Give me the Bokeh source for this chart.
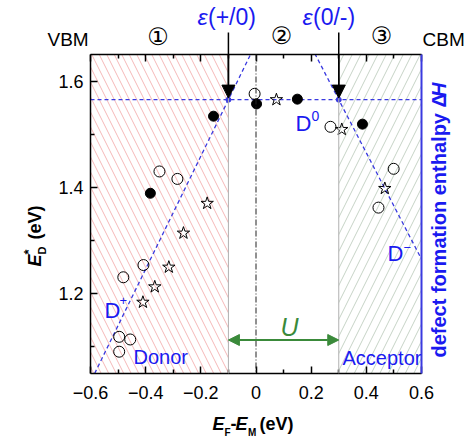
import math
from bokeh.plotting import figure
from bokeh.models import (Range1d, LinearAxis, FixedTicker, Span, Arrow, NormalHead)
from bokeh.core.properties import value
from bokeh.embed import file_html
from bokeh.resources import INLINE

# ---------------- data ----------------
filled_x = [-0.154, -0.383, 0.002, 0.150, 0.386]
filled_y = [1.534, 1.389, 1.557, 1.566, 1.519]

open_x = [-0.350, -0.285, -0.408, -0.481, -0.496, -0.456, -0.496, -0.005, 0.270, 0.499, 0.444]
open_y = [1.430, 1.416, 1.254, 1.231, 1.119, 1.114, 1.091, 1.576, 1.514, 1.435, 1.362]

star_x = [-0.177, -0.263, -0.316, -0.367, -0.410, 0.074, 0.311, 0.467]
star_y = [1.370, 1.314, 1.250, 1.213, 1.184, 1.565, 1.509, 1.398]

# transition levels and charge-state lines
trans_x = [-0.1, 0.3]
trans_y = [1.565, 1.565]
neutral_x = [-0.6, 0.6]
neutral_y = [1.565, 1.565]
plus_x = [-0.585, -0.018]
plus_y = [1.05, 1.652]
minus_x = [0.213, 0.6]
minus_y = [1.652, 1.265]

# regions
donor_region = (-0.6, -0.1)
acceptor_region = (0.3, 0.6)

x_ticks = [-0.6, -0.4, -0.2, 0.0, 0.2, 0.4, 0.6]
x_minor = [-0.5, -0.3, -0.1, 0.1, 0.3, 0.5]
y_ticks = [1.2, 1.4, 1.6]
y_minor = [1.1, 1.3, 1.5]

X0, X1 = -0.6, 0.6
Y0, Y1 = 1.05, 1.65

W, H = 468, 438
BL, BR, BT, BB = 90, 47, 54, 65
FL, FR, FT, FB = BL, W - BR, BT, H - BB


def px_x(px):
    return X0 + (px - FL) / (FR - FL) * (X1 - X0)


def px_y(py):
    return Y1 - (py - FT) / (FB - FT) * (Y1 - Y0)


BLUE_T = "#1a1af0"
BLUE_L = "#3a3ae0"
GREEN = "#3a8a3a"
FONT = "Liberation Sans"
K = 0.27  # baseline correction (fraction of font size)

p = figure(width=W, height=H, output_backend="svg", toolbar_location=None,
           x_range=Range1d(X0, X1), y_range=Range1d(Y0, Y1),
           min_border_left=BL, min_border_right=BR, min_border_top=BT,
           min_border_bottom=BB, x_axis_location=None, y_axis_location=None)
p.outline_line_color = None
p.xgrid.visible = False
p.ygrid.visible = False
p.background_fill_color = "white"


def style_axis(ax, ticks, minor, show_labels=True):
    ax.ticker = FixedTicker(ticks=ticks, minor_ticks=minor)
    ax.major_tick_in = 7
    ax.major_tick_out = 0
    ax.minor_tick_in = 4
    ax.minor_tick_out = 0
    ax.axis_line_width = 1.5
    ax.major_tick_line_width = 1.5
    ax.minor_tick_line_width = 1.5
    ax.major_label_text_font = FONT
    ax.major_label_text_font_size = "18px" if show_labels else "0px"
    ax.major_label_text_color = "black" if show_labels else None
    ax.major_label_standoff = 12


bx = LinearAxis()
style_axis(bx, x_ticks, x_minor)
p.add_layout(bx, "below")
tx = LinearAxis()
style_axis(tx, x_ticks, x_minor, False)
p.add_layout(tx, "above")
ly = LinearAxis()
style_axis(ly, y_ticks, y_minor)
ly.major_label_standoff = 7
p.add_layout(ly, "left")
ry = LinearAxis()
style_axis(ry, [], [], False)
ry.axis_line_color = BLUE_L
ry.axis_line_width = 2
ry.major_tick_line_color = None
ry.minor_tick_line_color = None
p.add_layout(ry, "right")

# hatched regions
p.quad(left=[donor_region[0]], right=[donor_region[1]], bottom=[Y0 - 1], top=[Y1 + 1],
       fill_color=None, line_color=None, hatch_pattern="\\", hatch_color="#f5b8b8",
       hatch_scale=15, hatch_weight=1)
p.quad(left=[acceptor_region[0]], right=[acceptor_region[1]], bottom=[Y0 - 1], top=[Y1 + 1],
       fill_color=None, line_color=None, hatch_pattern="/", hatch_color="#c6d3c6",
       hatch_scale=17, hatch_weight=1)

p.add_layout(Span(location=donor_region[1], dimension="height", line_color="#b0b0b0", line_width=1))
p.add_layout(Span(location=acceptor_region[0], dimension="height", line_color="#b0b0b0", line_width=1))
p.add_layout(Span(location=0.0, dimension="height", line_color="#222222", line_width=1,
                  line_dash="6 2 1 2"))

# charge-state lines
for lx, ly_ in [(neutral_x, neutral_y), (plus_x, plus_y), (minus_x, minus_y)]:
    p.line(lx, ly_, line_color=BLUE_L, line_width=1.3, line_dash="4 3")
p.scatter(trans_x, trans_y, size=5, color=BLUE_L)

# data markers
p.scatter(open_x, open_y, marker="circle", size=11, fill_color=None, line_color="black", line_width=1)
p.scatter(star_x, star_y, marker="star", size=13, fill_color=None, line_color="black", line_width=1)
p.scatter(filled_x, filled_y, marker="circle", size=10, fill_color="black", line_color="black")

# arrows from transition labels (shaft drawn unclipped at overlay level)
arrow_top = px_y(32)
p.segment(x0=trans_x, y0=[arrow_top] * 2, x1=trans_x, y1=[trans_y[0] + 0.02] * 2,
          line_color="black", line_width=1.5, level="overlay")
for tx_ in trans_x:
    p.add_layout(Arrow(end=NormalHead(size=13, fill_color="black", line_color="black"),
                       x_start=tx_, y_start=arrow_top, x_end=tx_, y_end=trans_y[0] + 0.003,
                       line_width=1.5, line_color="black"))

# U arrow
p.add_layout(Arrow(start=NormalHead(size=11, fill_color=GREEN, line_color=GREEN),
                   end=NormalHead(size=11, fill_color=GREEN, line_color=GREEN),
                   x_start=trans_x[0], y_start=px_y(339.5), x_end=trans_x[1], y_end=px_y(339.5),
                   line_width=2, line_color=GREEN))


def lab(text, px, py, size, color="black", style="normal", align="left",
        angle=0.0, font=FONT):
    if angle:
        px = px - K * size
    else:
        py = py - K * size
    p.text(x=[px_x(px)], y=[px_y(py)], text=[text], text_font=value(font),
           text_font_size=f"{size}px", text_font_style=style,
           text_color=color, text_align=align, text_baseline="alphabetic",
           angle=angle, level="overlay")


# top labels
lab("VBM", 47, 44, 19)
lab("CBM", 422, 44, 19)
lab("\u2460", 157.5, 43, 24, align="center", font="DejaVu Sans")
lab("\u2461", 281, 41.5, 24, align="center", font="DejaVu Sans")
lab("\u2462", 381, 42, 24, align="center", font="DejaVu Sans")
lab("\u03b5", 197, 23, 23, color=BLUE_T, style="italic")
lab("(+/0)", 207.5, 23, 23, color=BLUE_T)
lab("\u03b5", 302, 23, 23, color=BLUE_T, style="italic")
lab("(0/-)", 312.5, 23, 23, color=BLUE_T)

# in-plot labels
lab("D", 104, 316, 22, color=BLUE_T)
lab("+", 119, 304, 13, color=BLUE_T)
lab("Donor", 133, 362, 20, color=BLUE_T)
lab("D", 295, 129, 22, color=BLUE_T)
lab("0", 311, 119, 14, color=BLUE_T)
lab("D", 387, 259, 22, color=BLUE_T)
lab("\u2212", 403, 251, 13, color=BLUE_T)
lab("Acceptor", 342, 363, 20, color=BLUE_T)
lab("U", 289, 333, 25, color=GREEN, style="italic", align="center")

# x-axis label
lab("E", 212, 428, 18, style="bold italic")
lab("F", 224, 435, 10, style="bold")
lab("-", 230, 428, 18, style="bold")
lab("E", 235, 428, 18, style="bold italic")
lab("M", 247.5, 435, 10, style="bold")
lab("(eV)", 259, 428, 18, style="bold")

# y-axis label (rotated)
A = math.pi / 2
lab("E", 39, 266, 18, style="bold italic", angle=A)
lab("*", 32, 254, 13, style="bold", angle=A)
lab("D", 44, 254, 11, style="bold", angle=A)
lab("(eV)", 39, 239, 18, style="bold", angle=A)

# right label (rotated)
lab("defect formation enthalpy \u0394", 444, 357, 20, color=BLUE_T, style="bold", angle=A)
lab("H", 444, 82, 20, color=BLUE_T, style="bold italic", angle=A, align="right")

open("out.html", "w").write(file_html(p, INLINE))
